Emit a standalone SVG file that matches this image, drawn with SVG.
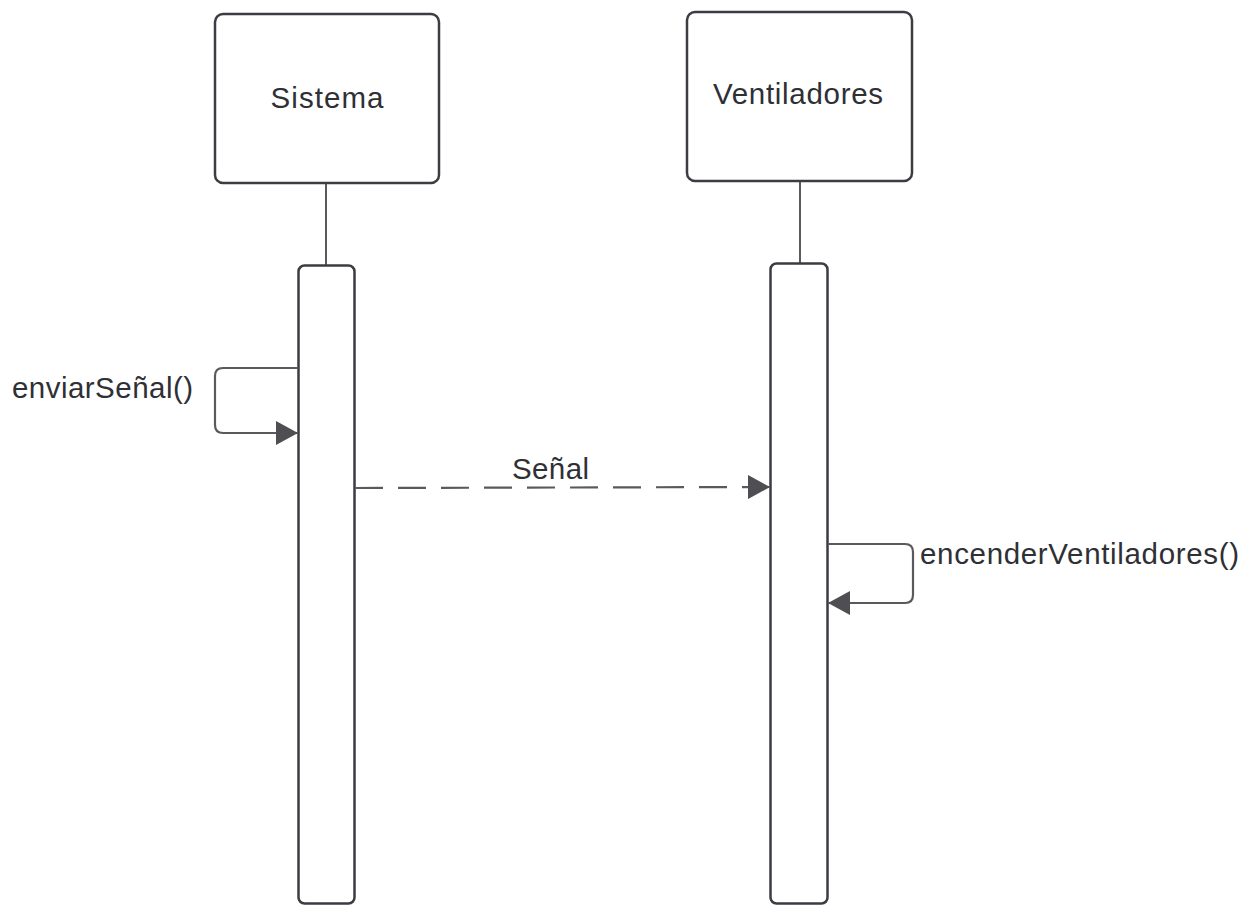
<svg xmlns="http://www.w3.org/2000/svg" width="1254" height="906" viewBox="0 0 1254 906">
<style>
.box{fill:#fff;stroke:#3c3d42;stroke-width:2.5}
.life{stroke:#5a5a5e;stroke-width:2;fill:none}
.conn{stroke:#5a5a5e;stroke-width:2.2;fill:none}
.dash{stroke-dasharray:28 15}
text{font-family:"Liberation Sans",Arial,sans-serif;font-size:29.5px;fill:#2f3036}
</style>
<defs>
<marker id="arr" viewBox="0 0 22 24" refX="22" refY="12" markerWidth="22" markerHeight="24" markerUnits="userSpaceOnUse" orient="auto">
<path d="M0,0 L22,12 L0,24 Z" fill="#4f4f53"/>
</marker>
</defs>
<g id="sistema">
<line class="life" x1="326" y1="183" x2="326" y2="265"/>
<rect class="box" x="215" y="14" width="224" height="169" rx="8"/>
<text x="327" y="108" text-anchor="middle" textLength="113">Sistema</text>
<rect class="box" x="298.5" y="265.5" width="56" height="638" rx="6"/>
</g>
<g id="ventiladores">
<line class="life" x1="800" y1="181" x2="800" y2="263"/>
<rect class="box" x="687" y="12" width="225" height="169" rx="8"/>
<text x="798" y="104" text-anchor="middle" textLength="170">Ventiladores</text>
<rect class="box" x="770.5" y="263.5" width="57" height="640" rx="6"/>
</g>
<g id="connectors">
<path class="conn" d="M298,368 L223,368 Q215,368 215,376 L215,425 Q215,433 223,433 L298,433" marker-end="url(#arr)"/>
<text x="12" y="398" textLength="181">enviarSeñal()</text>
<line class="conn dash" x1="355" y1="488" x2="770" y2="487" marker-end="url(#arr)"/>
<text x="512" y="479" textLength="77">Señal</text>
<path class="conn" d="M828,544 L905,544 Q913,544 913,552 L913,595 Q913,603 905,603 L828,603" marker-end="url(#arr)"/>
<text x="920" y="564" textLength="319">encenderVentiladores()</text>
</g>
</svg>
